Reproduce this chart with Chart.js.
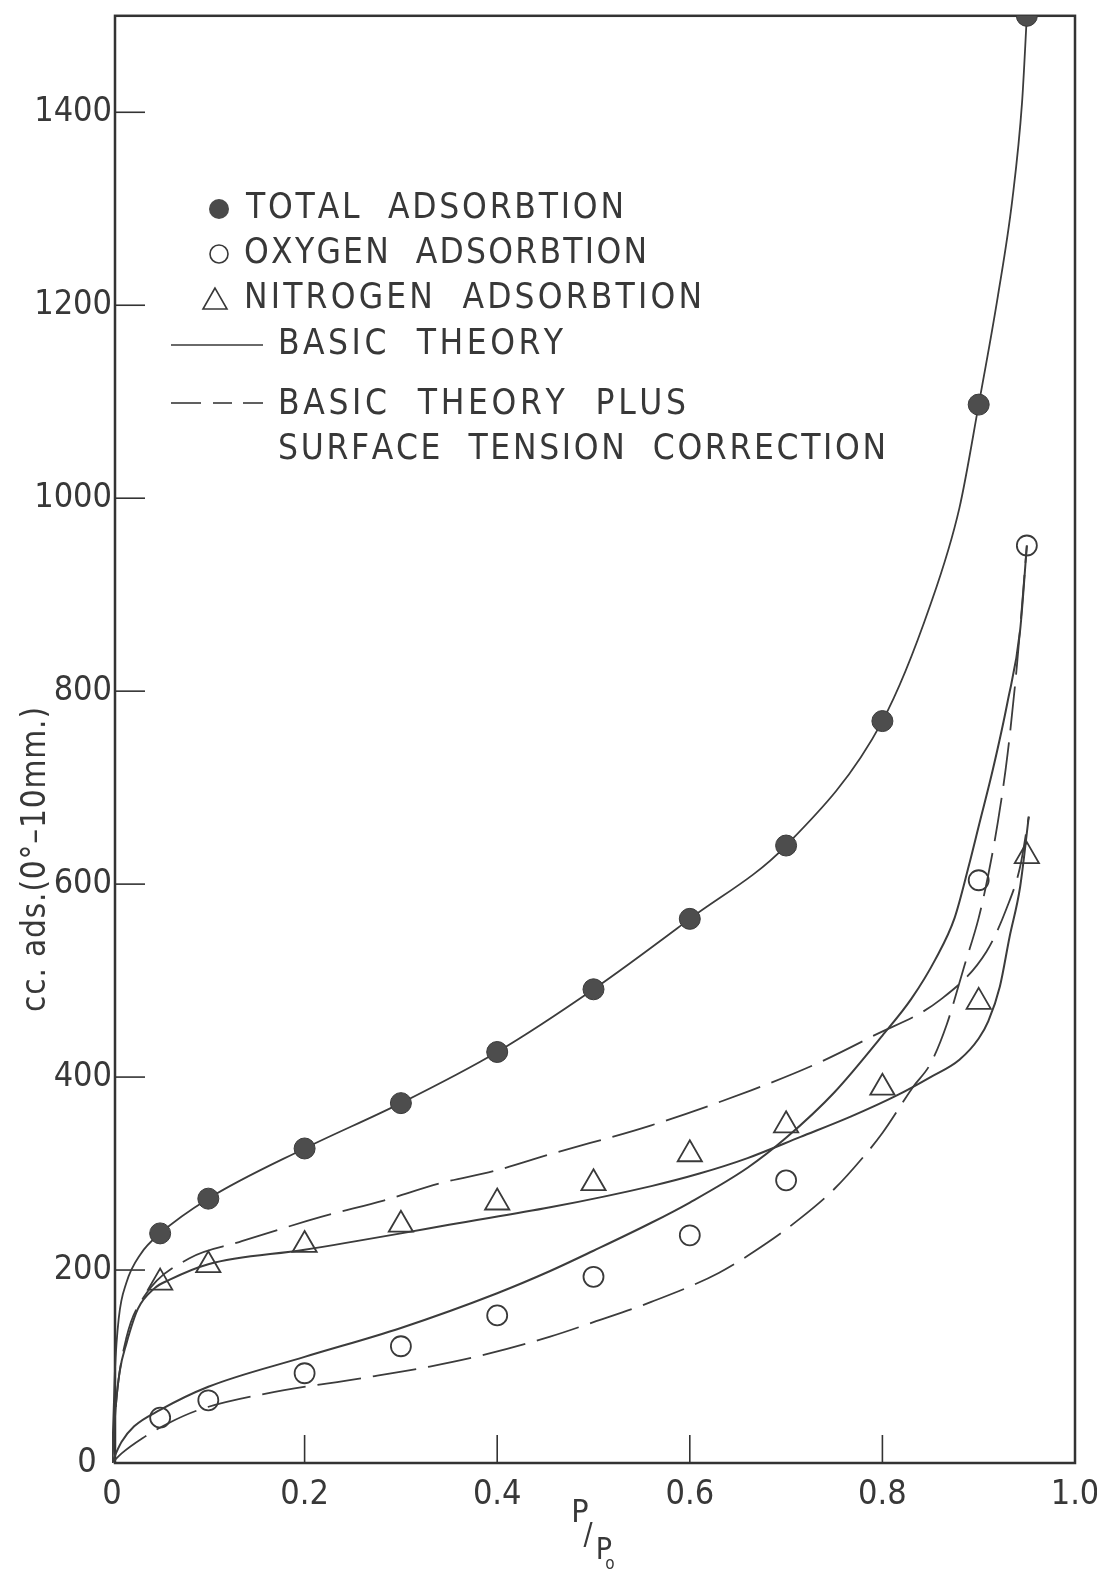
<!DOCTYPE html>
<html>
<head>
<meta charset="utf-8">
<script src="https://cdn.jsdelivr.net/npm/chart.js@4.4.0/dist/chart.umd.min.js"></script>
<style>
  html, body { margin: 0; padding: 0; background: #fff; }
  #wrap { width: 1097px; height: 1572px; position: relative; }
</style>
</head>
<body>
<div id="wrap"><canvas id="isotherm"></canvas></div>
<script>
const pressure = [0.05, 0.1, 0.2, 0.3, 0.4, 0.5, 0.6, 0.7, 0.8, 0.9, 0.95];
const totalAds = [238, 274, 326, 373, 426, 491, 564, 640, 769, 1097, 1500];
const oxygenP = [0.05, 0.1, 0.2, 0.3, 0.4, 0.5, 0.6, 0.7, 0.9, 0.95];
const oxygenAds = [47, 65, 93, 121, 153, 193, 236, 293, 604, 951];
const nitrogenAds = [187, 205, 226, 247, 270, 290, 320, 350, 389, 478, 629];

// theory curves
const totalTheoryP = [0, 0.003, 0.007, 0.015, 0.03, 0.05, 0.1, 0.2, 0.3, 0.4, 0.5, 0.6, 0.7, 0.8, 0.85, 0.88, 0.9, 0.92, 0.935, 0.945, 0.95];
const totalTheory = [0, 95, 150, 187, 217, 238, 274, 326, 373, 426, 491, 564, 640, 769, 890, 990, 1097, 1210, 1310, 1410, 1500];

const oxygenBasicP = [0, 0.005, 0.01, 0.023, 0.05, 0.1, 0.2, 0.3, 0.4, 0.455, 0.5, 0.56, 0.6, 0.66, 0.7, 0.75, 0.8, 0.83, 0.855, 0.875, 0.89, 0.9, 0.915, 0.93, 0.943, 0.95];
const oxygenBasic = [0, 12, 22, 38, 55, 79, 110, 140, 176, 199, 220, 249, 270, 306, 337, 384, 443, 481, 522, 565, 620, 660, 720, 789, 863, 951];

const oxygenCorrP = [0, 0.01, 0.032, 0.058, 0.09, 0.16, 0.26, 0.33, 0.39, 0.455, 0.5, 0.56, 0.63, 0.68, 0.714, 0.75, 0.78, 0.8, 0.832, 0.85, 0.867, 0.885, 0.9, 0.91, 0.92, 0.93, 0.94, 0.95];
const oxygenCorr = [0, 10, 26, 41, 55, 72, 88, 100, 113, 131, 146, 167, 197, 228, 253, 284, 317, 342, 390, 414, 455, 515, 565, 610, 665, 735, 830, 951];

const nitrogenBasicP = [0, 0.004, 0.008, 0.015, 0.027, 0.044, 0.06, 0.1, 0.2, 0.3, 0.35, 0.455, 0.56, 0.61, 0.66, 0.715, 0.767, 0.815, 0.85, 0.88, 0.9, 0.91, 0.922, 0.932, 0.943, 0.952];
const nitrogenBasic = [0, 60, 95, 124, 160, 181, 190, 206, 221, 238, 247, 265, 287, 300, 316, 338, 359, 381, 400, 418, 440, 458, 494, 545, 597, 670];

const nitrogenCorrP = [0, 0.005, 0.015, 0.033, 0.08, 0.132, 0.217, 0.282, 0.341, 0.398, 0.455, 0.56, 0.663, 0.732, 0.789, 0.86, 0.908, 0.929, 0.943, 0.952];
const nitrogenCorr = [0, 70, 130, 172, 212, 229, 255, 272, 290, 303, 320, 350, 386, 414, 442, 480, 530, 575, 618, 670];

const xTicks = [0, 0.2, 0.4, 0.6, 0.8, 1.0];
const yTicks = [0, 200, 400, 600, 800, 1000, 1200, 1400];

const FONT = '"DejaVu Sans Condensed", "Liberation Sans Narrow", "DejaVu Sans", sans-serif';
const INK = '#383838';

function pairs(xs, ys) {
  return xs.map((x, i) => ({ x: x, y: ys[i] }));
}

// the lettering on the original is spaced out, so stretch each line to its width
function spreadText(ctx, text, x, y, width) {
  const chars = text.split('');
  let natural = 0;
  chars.forEach(ch => { natural += ctx.measureText(ch).width; });
  const extra = chars.length > 1 ? (width - natural) / (chars.length - 1) : 0;
  let cx = x;
  chars.forEach(ch => {
    ctx.fillText(ch, cx, y);
    cx += ctx.measureText(ch).width + extra;
  });
}

const paperPlugin = {
  id: 'paper',
  beforeDatasetsDraw(chart) {
    const ctx = chart.ctx;
    const a = chart.chartArea;
    ctx.save();
    ctx.strokeStyle = '#333';
    ctx.lineWidth = 2.5;
    ctx.strokeRect(a.left + 3, a.top, a.right - a.left - 3, a.bottom - a.top);
    // inward tick marks
    ctx.lineWidth = 1.6;
    chart.scales.y.ticks.forEach(t => {
      if (t.value <= 0) return;
      const y = chart.scales.y.getPixelForValue(t.value);
      ctx.beginPath();
      ctx.moveTo(a.left + 3, y);
      ctx.lineTo(a.left + 33, y);
      ctx.stroke();
    });
    chart.scales.x.ticks.forEach(t => {
      if (t.value <= 0 || t.value >= 1) return;
      const x = chart.scales.x.getPixelForValue(t.value);
      ctx.beginPath();
      ctx.moveTo(x, a.bottom);
      ctx.lineTo(x, a.bottom - 28);
      ctx.stroke();
    });
    ctx.restore();
  },
  afterDraw(chart) {
    const ctx = chart.ctx;
    ctx.save();
    ctx.fillStyle = INK;
    ctx.strokeStyle = INK;
    ctx.textBaseline = 'middle';
    ctx.textAlign = 'left';

    // legend
    ctx.beginPath();
    ctx.arc(219, 209, 10, 0, Math.PI * 2);
    ctx.fillStyle = '#4a4a4a';
    ctx.fill();
    ctx.fillStyle = INK;
    ctx.lineWidth = 1.6;
    ctx.beginPath();
    ctx.arc(219, 254, 9, 0, Math.PI * 2);
    ctx.stroke();
    ctx.beginPath();
    ctx.moveTo(215, 288);
    ctx.lineTo(203, 309);
    ctx.lineTo(227, 309);
    ctx.closePath();
    ctx.stroke();
    ctx.beginPath();
    ctx.moveTo(171, 345);
    ctx.lineTo(263, 345);
    ctx.stroke();
    [[171, 201], [213, 232], [243, 263]].forEach(s => {
      ctx.beginPath();
      ctx.moveTo(s[0], 403);
      ctx.lineTo(s[1], 403);
      ctx.stroke();
    });

    ctx.font = '35px ' + FONT;
    spreadText(ctx, 'TOTAL  ADSORBTION', 246, 209, 378);
    spreadText(ctx, 'OXYGEN  ADSORBTION', 244, 254, 403);
    spreadText(ctx, 'NITROGEN  ADSORBTION', 244, 299, 458);
    spreadText(ctx, 'BASIC  THEORY', 278, 345, 285);
    spreadText(ctx, 'BASIC  THEORY  PLUS', 278, 405, 408);
    spreadText(ctx, 'SURFACE  TENSION  CORRECTION', 278, 450, 608);

    // y axis title
    ctx.save();
    ctx.translate(36, 860);
    ctx.rotate(-Math.PI / 2);
    ctx.font = '33px ' + FONT;
    spreadText(ctx, 'cc. ads.(0°–10mm.)', -152, 0, 305);
    ctx.restore();

    // x axis title, P/P0 written as a stacked fraction
    ctx.textAlign = 'center';
    ctx.font = '32px ' + FONT;
    ctx.fillText('P', 580, 1514);
    ctx.font = '30px ' + FONT;
    ctx.fillText('/', 588, 1536);
    ctx.fillText('P', 604, 1551);
    ctx.font = '17px ' + FONT;
    ctx.fillText('o', 610, 1565);
    ctx.restore();
  }
};

const lineColor = '#3c3c3c';

new Chart(document.getElementById('isotherm'), {
  type: 'scatter',
  data: {
    datasets: [
      {
        label: 'TOTAL ADSORBTION',
        data: pairs(pressure, totalAds),
        pointStyle: 'circle', pointRadius: 10.5,
        backgroundColor: '#4d4d4d', borderColor: '#3a3a3a', borderWidth: 1,
        order: 0
      },
      {
        label: 'OXYGEN ADSORBTION',
        data: pairs(oxygenP, oxygenAds),
        pointStyle: 'circle', pointRadius: 10,
        backgroundColor: 'rgba(255,255,255,0)', borderColor: '#3a3a3a', borderWidth: 1.8,
        order: 0
      },
      {
        label: 'NITROGEN ADSORBTION',
        data: pairs(pressure, nitrogenAds),
        pointStyle: 'triangle', pointRadius: 14,
        backgroundColor: 'rgba(255,255,255,0)', borderColor: '#3a3a3a', borderWidth: 1.8,
        order: 0
      },
      {
        label: 'Total, basic theory',
        data: pairs(totalTheoryP, totalTheory),
        showLine: true, pointRadius: 0, borderColor: lineColor, borderWidth: 1.8,
        cubicInterpolationMode: 'monotone', order: 1
      },
      {
        label: 'Oxygen, basic theory',
        data: pairs(oxygenBasicP, oxygenBasic),
        showLine: true, pointRadius: 0, borderColor: lineColor, borderWidth: 2,
        cubicInterpolationMode: 'monotone', order: 1
      },
      {
        label: 'Oxygen, plus surface tension correction',
        data: pairs(oxygenCorrP, oxygenCorr),
        showLine: true, pointRadius: 0, borderColor: lineColor, borderWidth: 1.8,
        borderDash: [44, 12], cubicInterpolationMode: 'monotone', order: 1
      },
      {
        label: 'Nitrogen, basic theory',
        data: pairs(nitrogenBasicP, nitrogenBasic),
        showLine: true, pointRadius: 0, borderColor: lineColor, borderWidth: 2,
        cubicInterpolationMode: 'monotone', order: 1
      },
      {
        label: 'Nitrogen, plus surface tension correction',
        data: pairs(nitrogenCorrP, nitrogenCorr),
        showLine: true, pointRadius: 0, borderColor: lineColor, borderWidth: 1.8,
        borderDash: [44, 12], cubicInterpolationMode: 'monotone', order: 1
      }
    ]
  },
  options: {
    responsive: true,
    maintainAspectRatio: false,
    animation: false,
    layout: { padding: { left: 0, right: 22, top: 15, bottom: 0 } },
    plugins: {
      legend: { display: false },
      tooltip: { enabled: false }
    },
    scales: {
      x: {
        type: 'linear', min: 0, max: 1,
        grid: { display: false, drawTicks: false },
        border: { display: false },
        afterBuildTicks: s => { s.ticks = xTicks.map(v => ({ value: v })); },
        afterFit: s => {
          s.height = 109;
          s.paddingLeft = 0; s.paddingRight = 0;
        },
        ticks: {
          font: { family: FONT, size: 34 }, color: INK, padding: 12,
          maxRotation: 0, autoSkip: false,
          callback: v => v === 0 ? '0' : v.toFixed(1)
        }
      },
      y: {
        type: 'linear', min: 0, max: 1500,
        grid: { display: false, drawTicks: false },
        border: { display: false },
        afterBuildTicks: s => { s.ticks = yTicks.map(v => ({ value: v })); },
        afterFit: s => {
          s.width = 112;
          s.paddingTop = 0; s.paddingBottom = 0;
        },
        ticks: {
          font: { family: FONT, size: 34 }, color: INK, padding: 0,
          autoSkip: false,
          callback: v => v === 0 ? '0\u2002' : String(v)
        }
      }
    }
  },
  plugins: [paperPlugin]
});
</script>
</body>
</html>
